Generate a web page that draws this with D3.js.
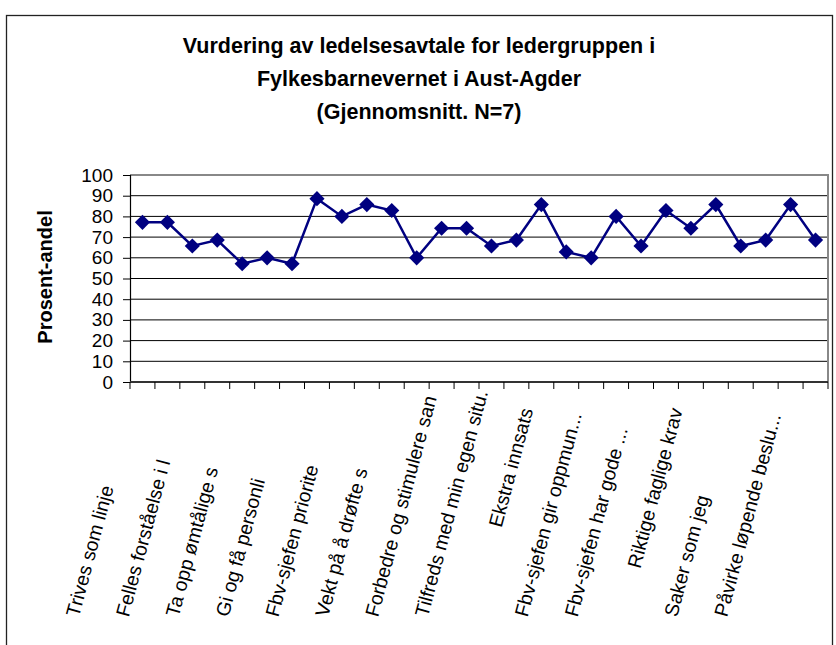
<!DOCTYPE html>
<html>
<head>
<meta charset="utf-8">
<script src="https://cdn.jsdelivr.net/npm/d3@7/dist/d3.min.js"></script>
<style>
  body { margin: 0; background: #fff; }
  svg { display: block; }
  text { font-family: "Liberation Sans", Arial, sans-serif; }
</style>
</head>
<body>
<svg width="836" height="645"></svg>
<script>
// chart data
var titleLines = ["Vurdering av ledelsesavtale for ledergruppen i",
                  "Fylkesbarnevernet i Aust-Agder",
                  "(Gjennomsnitt. N=7)"];
var yTitle = "Prosent-andel";
var yTicks = [0, 10, 20, 30, 40, 50, 60, 70, 80, 90, 100];

// 28 questions, mean score in percent
var values = [77.14, 77.14, 65.71, 68.57, 57.14, 60, 57.14, 88.57, 80, 85.71,
              82.86, 60, 74.29, 74.29, 65.71, 68.57, 85.71, 62.86, 60, 80,
              65.71, 82.86, 74.29, 85.71, 65.71, 68.57, 85.71, 68.57];

// only every second category gets a label, as shown (text cut where Excel cut it)
var labels = ["Trives som linje", "Felles forståelse i l", "Ta opp ømtålige s",
              "Gi og få personli", "Fbv-sjefen priorite", "Vekt på å drøfte s",
              "Forbedre og stimulere san", "Tilfreds med min egen situ.",
              "Ekstra innsats", "Fbv-sjefen gir oppmun...", "Fbv-sjefen har gode ...",
              "Riktige faglige krav", "Saker som jeg", "Påvirke løpende beslu..."];
var labelCut = [true, true, true, true, true, true, true, true,
                false, true, true, false, true, true];

var svg = d3.select("svg");
var mLeft = 130, mRight = 828, mTop = 175, mBottom = 382;

// outer chart frame
svg.append("rect")
    .attr("x", 6.5).attr("y", 15.5)
    .attr("width", 826).attr("height", 700)
    .attr("fill", "none").attr("stroke", "#222").attr("stroke-width", 1.3);

// title
svg.append("g").selectAll("text")
    .data(titleLines)
    .enter().append("text")
    .attr("x", 419)
    .attr("y", function(d, i) { return 53 + i * 33; })
    .attr("text-anchor", "middle")
    .attr("font-size", 21.5)
    .attr("font-weight", "bold")
    .text(function(d) { return d; });

var x = d3.scaleBand()
    .domain(d3.range(values.length))
    .range([mLeft, mRight]);

var y = d3.scaleLinear()
    .domain([0, 100])
    .range([mBottom, mTop]);

// gridlines
svg.append("g").selectAll("line")
    .data(yTicks.slice(1, -1))
    .enter().append("line")
    .attr("x1", mLeft).attr("x2", mRight)
    .attr("y1", function(d) { return y(d); })
    .attr("y2", function(d) { return y(d); })
    .attr("stroke", "#000").attr("stroke-width", 1);

// plot area border (top / right grey)
svg.append("path")
    .attr("d", "M" + mLeft + "," + y(100) + "H" + mRight + "V" + mBottom)
    .attr("fill", "none").attr("stroke", "#888").attr("stroke-width", 2);

// y axis
var yAxis = d3.axisLeft(y).tickValues(yTicks).tickSize(7).tickPadding(10);
var gy = svg.append("g").attr("transform", "translate(" + mLeft + ",0)").call(yAxis);
gy.select(".domain").attr("stroke", "#000").attr("stroke-width", 1.2);
gy.selectAll(".tick line").attr("stroke", "#000");
gy.selectAll(".tick text")
    .attr("font-size", 19)
    .attr("font-family", "Liberation Sans, Arial, sans-serif")
    .attr("fill", "#000");

// x axis: ticks on category boundaries
var gx = svg.append("g");
gx.append("line")
    .attr("x1", mLeft).attr("x2", mRight)
    .attr("y1", mBottom).attr("y2", mBottom)
    .attr("stroke", "#333").attr("stroke-width", 2);
gx.selectAll(".xt")
    .data(d3.range(values.length + 1))
    .enter().append("line")
    .attr("class", "xt")
    .attr("x1", function(d) { return d < values.length ? x(d) : x(d - 1) + x.bandwidth(); })
    .attr("x2", function(d) { return d < values.length ? x(d) : x(d - 1) + x.bandwidth(); })
    .attr("y1", mBottom).attr("y2", mBottom + 7)
    .attr("stroke", "#000").attr("stroke-width", 1);

// category labels, rotated
var ang = 75, maxLen = 215;
var rad = ang * Math.PI / 180;
svg.append("g").selectAll("text")
    .data(labels)
    .enter().append("text")
    .attr("font-size", 19.5)
    .attr("text-anchor", function(d, i) { return labelCut[i] ? "start" : "end"; })
    .attr("transform", function(d, i) {
        var cx = x(i * 2) + x.bandwidth() / 2 - 8, cy = 410;
        if (labelCut[i]) {
            cx -= maxLen * Math.cos(rad);
            cy += maxLen * Math.sin(rad);
        }
        return "translate(" + cx + "," + cy + ") rotate(" + (-ang) + ")";
    })
    .text(function(d) { return d; });

// y axis title
svg.append("text")
    .attr("transform", "translate(52,277) rotate(-90)")
    .attr("text-anchor", "middle")
    .attr("font-size", 20)
    .attr("font-weight", "bold")
    .text(yTitle);

// the line
var line = d3.line()
    .x(function(d, i) { return x(i) + x.bandwidth() / 2; })
    .y(function(d) { return y(d); });

svg.append("path")
    .datum(values)
    .attr("d", line)
    .attr("fill", "none")
    .attr("stroke", "#000080")
    .attr("stroke-width", 2.5);

var diamond = d3.symbol().type(d3.symbolSquare).size(115);
svg.append("g").selectAll("path")
    .data(values)
    .enter().append("path")
    .attr("d", diamond)
    .attr("transform", function(d, i) {
        return "translate(" + (x(i) + x.bandwidth() / 2) + "," + y(d) + ") rotate(45)";
    })
    .attr("fill", "#000080");
</script>
</body>
</html>
